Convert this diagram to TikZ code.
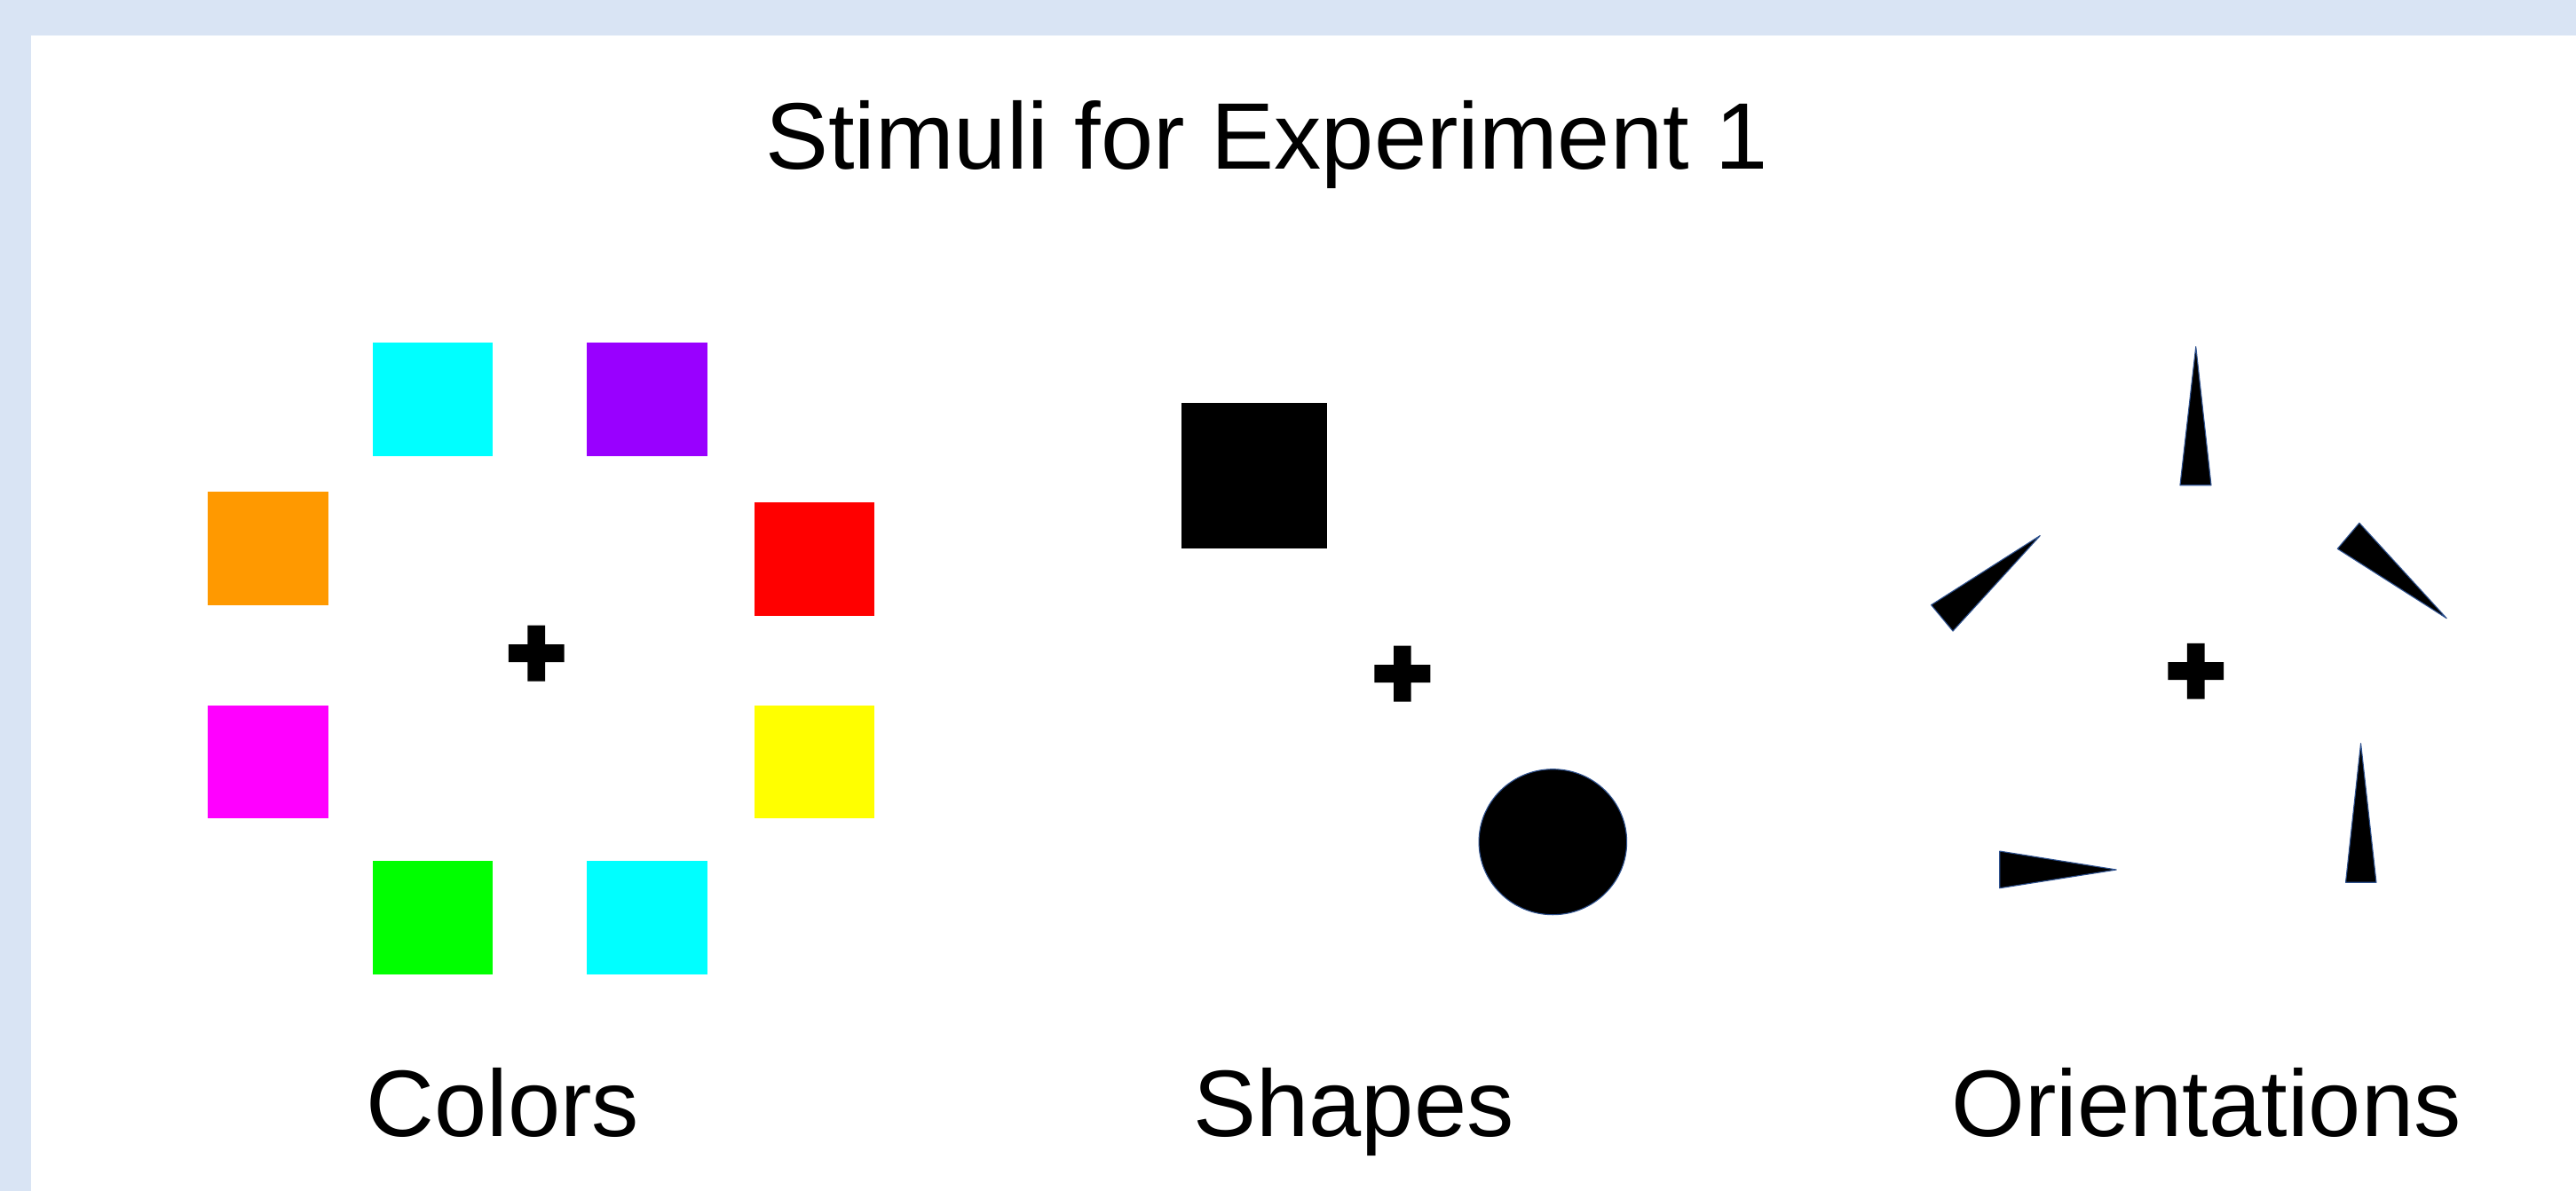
\documentclass[tikz,border=0pt]{standalone}
\usepackage{fontspec}
\setmainfont{Liberation Sans}
\definecolor{bandblue}{HTML}{D9E4F4}
\definecolor{edgeblue}{HTML}{2F528F}
\definecolor{cyanc}{HTML}{00FFFF}
\definecolor{purplec}{HTML}{9900FF}
\definecolor{orangec}{HTML}{FF9900}
\definecolor{redc}{HTML}{FF0000}
\definecolor{magentac}{HTML}{FF00FF}
\definecolor{yellowc}{HTML}{FFFF00}
\definecolor{greenc}{HTML}{00FF00}
\tikzset{
  lbl/.style={anchor=base, inner sep=0pt, font=\fontsize{57.5}{60}\selectfont},
  wedge/.style={fill=black, draw=edgeblue, line width=0.6pt, line join=round},
  fixcross/.style={fill=black}
}
\newcommand{\fixplus}[2]{%
  \fill[fixcross] (#1-17,#2-5.4) -- (#1-5.3,#2-5.4) -- (#1-5.3,#2-17) -- (#1+5.3,#2-17) -- (#1+5.3,#2-5.4) -- (#1+17,#2-5.4) -- (#1+17,#2+5.4) -- (#1+5.3,#2+5.4) -- (#1+5.3,#2+17) -- (#1-5.3,#2+17) -- (#1-5.3,#2+5.4) -- (#1-17,#2+5.4) -- cycle;}
\begin{document}
\begin{tikzpicture}[x=1pt,y=-1pt]
\useasboundingbox (0,0) rectangle (1568,725);
\fill[bandblue] (0,0) rectangle (1568,725);
\fill[white] (18.9,21.6) rectangle (1568,725);

% title
\node[lbl] (title) at (771,103) {Stimuli for Experiment 1};

% Colors panel
\fill[cyanc]    (226.9,208.6) rectangle (299.9,277.5);
\fill[purplec]  (357.1,208.6) rectangle (430.6,277.5);
\fill[orangec]  (126.4,299.3) rectangle (199.9,368.3);
\fill[redc]     (459.0,306.0) rectangle (532.3,375.0);
\fill[magentac] (126.4,429.3) rectangle (199.9,498.3);
\fill[yellowc]  (459.0,429.3) rectangle (532.3,498.3);
\fill[greenc]   (226.9,524.3) rectangle (299.9,593.3);
\fill[cyanc]    (357.1,524.3) rectangle (430.6,593.3);
\fixplus{326.5}{397.7}
\node[lbl] (colors) at (306,692) {Colors};

% Shapes panel
\fill[black] (719.2,245.3) rectangle (807.8,333.9);
\fixplus{853.6}{410.2}
\draw[wedge] (945.2,512.6) ellipse [x radius=45, y radius=44.3];
\node[lbl] (shapes) at (824,692) {Shapes};

% Orientations panel
\draw[wedge] (1336.6,211.1) -- (1345.9,295.4) -- (1327.0,295.4) -- cycle;
\draw[wedge] (1241.8,326.1) -- (1175.5,368.3) -- (1188.7,384.2) -- cycle;
\draw[wedge] (1436.1,318.4) -- (1422.8,334.1) -- (1489.2,376.4) -- cycle;
\draw[wedge] (1217.2,518.2) -- (1288.2,529.5) -- (1217.2,540.7) -- cycle;
\draw[wedge] (1437.0,452.6) -- (1446.4,537.2) -- (1427.8,537.2) -- cycle;
\fixplus{1336.6}{408.6}
\node[lbl] (orient) at (1343,692) {Orientations};
\end{tikzpicture}
\end{document}
